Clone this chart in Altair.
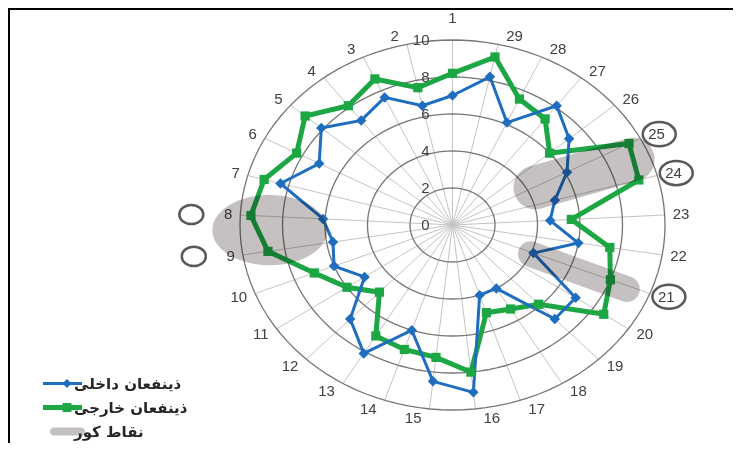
import altair as alt
import pandas as pd

# ---------------- data ----------------
categories = [str(i) for i in range(1, 30)]
internal = [7.0, 6.6, 7.6, 7.1, 8.1, 7.1, 8.4, 6.1, 5.7, 6.0, 5.0, 7.0, 8.1, 6.0, 8.5,
            9.1, 4.0, 4.0, 7.0, 7.0, 4.1, 6.0, 4.6, 5.0, 6.1, 7.2, 8.1, 6.1, 8.2]
external = [8.2, 7.6, 8.7, 8.1, 9.1, 8.3, 9.2, 9.5, 8.8, 7.0, 6.0, 5.0, 7.0, 7.1, 7.2,
            8.0, 5.0, 5.3, 5.9, 8.6, 8.0, 7.5, 5.6, 9.1, 9.4, 6.0, 7.2, 7.5, 9.3]
ring_values = [2, 4, 6, 8, 10]
ring_labels = [0, 2, 4, 6, 8, 10]
series_names = ["ذینفعان داخلی", "ذینفعان خارجی", "نقاط کور"]
circled_labels = [21, 24, 25]     # category labels drawn inside a circle
marked_labels = [8, 9]            # category labels with a circle beside them
blind_cat = [8.4, 24.7, 20.9]     # blind-spot centres: category position
blind_r = [8.6, 6.79, 6.46]       # blind-spot centres: value

N = len(categories)
BLUE = "#1f6dbf"
GREEN = "#1ca644"
GRAY = "#c6c1c1"
TH = f"(datum.cat - 1) * 2 * PI / {N}"

# ---------------- helper shapes (styles) ----------------
C = 0.5523


def ellipse_path(k):
    return (f"M-1,0 C-1,{-C*k:.4f} {-C:.4f},{-k:.4f} 0,{-k:.4f} "
            f"C{C:.4f},{-k:.4f} 1,{-C*k:.4f} 1,0 "
            f"C1,{C*k:.4f} {C:.4f},{k:.4f} 0,{k:.4f} "
            f"C{-C:.4f},{k:.4f} -1,{C*k:.4f} -1,0 Z")


def capsule_path(k):
    a = 1 - k
    return (f"M{-a:.4f},{-k:.4f} L{a:.4f},{-k:.4f} "
            f"C{a+C*k:.4f},{-k:.4f} 1,{-C*k:.4f} 1,0 "
            f"C1,{C*k:.4f} {a+C*k:.4f},{k:.4f} {a:.4f},{k:.4f} "
            f"L{-a:.4f},{k:.4f} "
            f"C{-a-C*k:.4f},{k:.4f} -1,{C*k:.4f} -1,0 "
            f"C-1,{-C*k:.4f} {-a-C*k:.4f},{-k:.4f} {-a:.4f},{-k:.4f} Z")


legend_paths = [
    "M-1.7,-0.13H1.7V0.13H-1.7Z M0,0L0.39,-0.39L0.78,0L0.39,0.39Z",
    "M-1.7,-0.22H1.7V0.22H-1.7Z M0,-0.39H0.78V0.39H0Z",
    "M-0.74,-0.35 H1.61 C1.8,-0.35 1.96,-0.2 1.96,0 C1.96,0.2 1.8,0.35 1.61,0.35 "
    "H-0.74 C-0.93,0.35 -1.09,0.2 -1.09,0 C-1.09,-0.2 -0.93,-0.35 -0.74,-0.35 Z",
]

# ---------------- tables ----------------
rows = []
for name, vals in [(series_names[0], internal), (series_names[1], external)]:
    for i, v in enumerate(vals):
        rows.append({"series": name, "cat": i + 1, "idx": i + 1, "value": v})
    rows.append({"series": name, "cat": 1, "idx": N + 1, "value": vals[0]})
main_df = pd.DataFrame(rows)

cat_df = pd.DataFrame({"cat": list(range(1, N + 1)), "label": categories})

blob_df = pd.DataFrame({
    "cat": blind_cat,
    "value": blind_r,
    "shape": [ellipse_path(0.61), capsule_path(0.30), capsule_path(0.20)],
    "sz": [115 ** 2, 145 ** 2, 128 ** 2],
    "ang": [0, 344, 20],
})

legend_df = pd.DataFrame({"series": series_names})

xs = alt.Scale(domain=[-20.918, 13.2], nice=False, zero=False)
ys = alt.Scale(domain=[-11.784, 11.730], nice=False, zero=False)
X = alt.X("x:Q", scale=xs, axis=None)
Y = alt.Y("y:Q", scale=ys, axis=None)

color_scale = alt.Scale(domain=series_names, range=[BLUE, GREEN, GRAY])


def polar(chart, rcol="value"):
    return chart.transform_calculate(th=TH).transform_calculate(
        x=f"-datum.{rcol} * sin(datum.th)", y=f"datum.{rcol} * cos(datum.th)")


# spokes
spokes = alt.Chart(cat_df).transform_calculate(th=TH).transform_calculate(
    x="0", y="0", x2="-10 * sin(datum.th)", y2="10 * cos(datum.th)"
).mark_rule(color="#c4c4c4", strokeWidth=1).encode(
    x=X, y=Y, x2="x2:Q", y2="y2:Q")

# rings
rings = alt.Chart(pd.DataFrame({"ring": ring_values})).transform_calculate(
    deg="sequence(0, 361, 3)"
).transform_flatten(["deg"]).transform_calculate(
    x="datum.ring * sin(datum.deg * PI / 180)",
    y="datum.ring * cos(datum.deg * PI / 180)"
).mark_line(color="#767676", strokeWidth=1.3).encode(
    x=X, y=Y, detail="ring:N", order="deg:Q")

# ring value labels
ring_text = alt.Chart(pd.DataFrame({"v": ring_labels})).transform_calculate(
    x="0", y="datum.v", t="'' + datum.v"
).mark_text(align="right", baseline="middle", dx=-23, fontSize=15,
            font="Liberation Sans", color="#404040").encode(x=X, y=Y, text="t:N")

# category labels
lab_base = alt.Chart(cat_df).transform_calculate(th=TH).transform_calculate(
    s="sin(datum.th)",
    x="-10 * sin(datum.th)",
    y="10.486 * cos(datum.th)")
lab_style = dict(baseline="middle", fontSize=15, font="Liberation Sans", color="#404040")
lab_left = lab_base.transform_filter("datum.s > 0.001").mark_text(
    align="right", dx=-8, **lab_style).encode(x=X, y=Y, text="label:N")
lab_right = lab_base.transform_filter("datum.s < -0.001").mark_text(
    align="left", dx=8, **lab_style).encode(x=X, y=Y, text="label:N")
lab_top = lab_base.transform_filter("datum.cat == 1").transform_calculate(
    y2="10").mark_text(align="center", dy=-21.7, **lab_style).encode(
    x=X, y=alt.Y("y2:Q", scale=ys, axis=None), text="label:N")

# circles around / beside labels
circ_around = lab_base.transform_filter(
    alt.FieldOneOfPredicate(field="cat", oneOf=circled_labels)
).mark_point(shape=ellipse_path(0.73), size=33 ** 2, filled=False,
             stroke="#5a5a5a", strokeWidth=2.5, xOffset=19, opacity=1).encode(x=X, y=Y)
circ_beside = lab_base.transform_filter(
    alt.FieldOneOfPredicate(field="cat", oneOf=marked_labels)
).mark_point(shape=ellipse_path(0.8), size=24 ** 2, filled=False,
             stroke="#5a5a5a", strokeWidth=2.5, xOffset=-49, opacity=1).encode(x=X, y=Y)

# series lines
color_enc = alt.Color("series:N", scale=color_scale, legend=None)
green_line = polar(alt.Chart(main_df)).transform_filter(
    alt.datum.series == series_names[1]
).mark_line(strokeWidth=5, strokeJoin="miter").encode(
    x=X, y=Y, color=color_enc, order="idx:Q")
blue_line = polar(alt.Chart(main_df)).transform_filter(
    alt.datum.series == series_names[0]
).mark_line(strokeWidth=3).encode(
    x=X, y=Y, color=color_enc, order="idx:Q")
green_pts = polar(alt.Chart(main_df)).transform_filter(
    (alt.datum.series == series_names[1]) & (alt.datum.idx <= N)
).mark_point(shape="square", size=85, filled=True, opacity=1).encode(
    x=X, y=Y, color=color_enc)
blue_pts = polar(alt.Chart(main_df)).transform_filter(
    (alt.datum.series == series_names[0]) & (alt.datum.idx <= N)
).mark_point(shape="diamond", size=110, filled=True, opacity=1).encode(
    x=X, y=Y, color=color_enc)

# blind spots
blobs = polar(alt.Chart(blob_df)).mark_point(
    filled=True, color=GRAY, opacity=1, blend="multiply", strokeWidth=0
).encode(
    x=X, y=Y,
    shape=alt.Shape("shape:N", scale=None),
    size=alt.Size("sz:Q", scale=None),
    angle=alt.Angle("ang:Q", scale=None))

# legend (scales only, its marks are filtered away)
leg = alt.Legend(title=None, orient="none", legendX=43, legendY=364, symbolSize=529,
                 symbolStrokeWidth=0, symbolOpacity=1, labelFont="DejaVu Sans",
                 labelFontSize=15, labelFontWeight="bold", labelColor="#262626",
                 labelOffset=0, rowPadding=4, padding=0, labelLimit=300)
legend_layer = alt.Chart(legend_df).transform_filter("false").mark_point(
    filled=True, opacity=1).encode(
    color=alt.Color("series:N", scale=color_scale, legend=leg),
    shape=alt.Shape("series:N", scale=alt.Scale(domain=series_names, range=legend_paths),
                    legend=leg))

# frame
one = pd.DataFrame({"a": [0]})
frame_top = alt.Chart(one).mark_rule(color="black", strokeWidth=2).encode(
    x=alt.value(0), x2=alt.value(725), y=alt.value(1))
frame_left = alt.Chart(one).mark_rule(color="black", strokeWidth=2).encode(
    x=alt.value(1), y=alt.value(0), y2=alt.value(435))

chart = alt.layer(
    spokes, rings, ring_text, lab_left, lab_right, lab_top, circ_around, circ_beside,
    green_line, blue_line, green_pts, blue_pts, blobs, legend_layer,
    frame_top, frame_left
).resolve_scale(
    color="independent", shape="independent"
).properties(
    width=725, height=435, padding=0,
    autosize=alt.AutoSizeParams(type="none"),
    background="white"
).configure_view(stroke=None)

chart.save("out.html", embed_options={"renderer": "svg", "actions": False})
